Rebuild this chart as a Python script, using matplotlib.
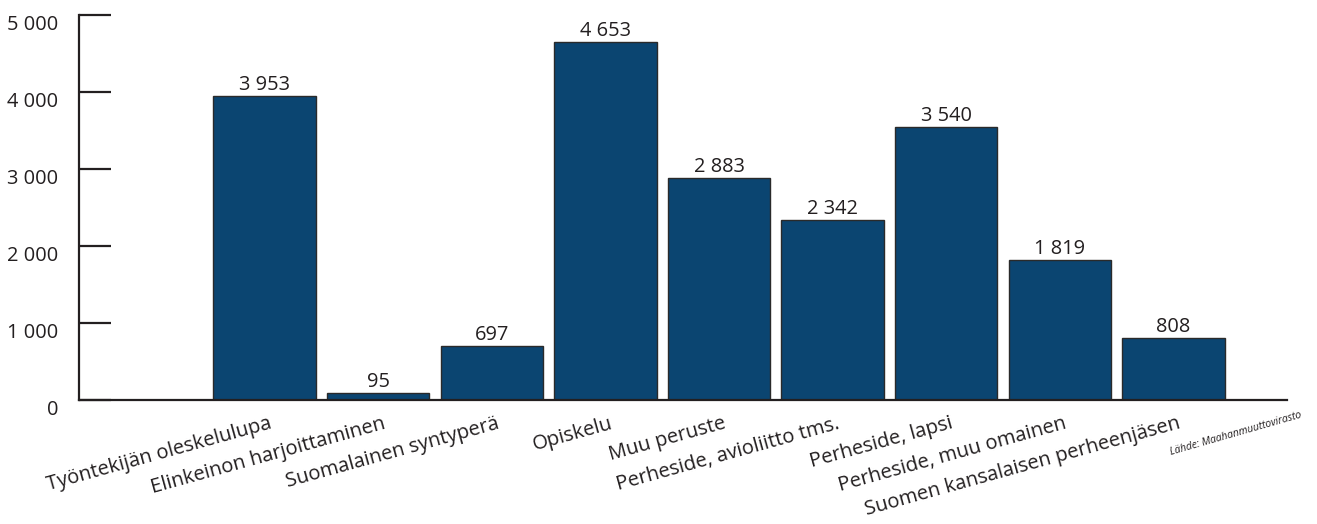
import matplotlib
matplotlib.use("Agg")
import matplotlib.pyplot as plt
import matplotlib.transforms as mtransforms
import numpy as np

categories = [
    "Työntekijän oleskelulupa",
    "Elinkeinon harjoittaminen",
    "Suomalainen syntyperä",
    "Opiskelu",
    "Muu peruste",
    "Perheside, avioliitto tms.",
    "Perheside, lapsi",
    "Perheside, muu omainen",
    "Suomen kansalaisen perheenjäsen",
]
values = [3953, 95, 697, 4653, 2883, 2342, 3540, 1819, 808]
y_ticks = [0, 1000, 2000, 3000, 4000, 5000]
source_text = "Lähde: Maahanmuuttovirasto"

TEXT = "#231f20"
BAR = "#0b4571"

plt.rcParams["font.family"] = ["Open Sans", "DejaVu Sans"]

def fmt(v):
    return f"{v:,}".replace(",", " ")

DPI = 100
fig = plt.figure(figsize=(13.17, 5.24), dpi=DPI)
ax = fig.add_axes([79 / 1317, 124 / 524, (1287 - 79) / 1317, (400 - 15) / 524])

x = np.arange(1, len(categories) + 1)
bars = ax.bar(x, values, width=0.9, color=BAR, edgecolor="#2a2a2a", linewidth=1.0, zorder=2)

ax.set_xlim(-0.634, 10)
ax.set_ylim(0, 5000)

for s in ("top", "right"):
    ax.spines[s].set_visible(False)
for s in ("left", "bottom"):
    ax.spines[s].set_linewidth(1.6)
    ax.spines[s].set_color(TEXT)
    ax.spines[s].set_zorder(3)

ax.set_yticks(y_ticks)
ax.set_yticklabels([fmt(v) for v in y_ticks])
ax.tick_params(axis="y", direction="in", length=23, width=1.6, color=TEXT,
               pad=15, labelsize=14.4, labelcolor=TEXT)
for lbl in ax.get_yticklabels():
    lbl.set_verticalalignment("top")
ax.set_xticks([])

# value labels
for xi, v in zip(x, values):
    ax.annotate(fmt(v), (xi, v), xytext=(0, 4.3), textcoords="offset points",
                ha="center", va="baseline", fontsize=14.4, color=TEXT)

# category labels (rotated, right end anchored near bar centre)
base = ax.get_xaxis_transform()
for xi, lab in zip(x, categories):
    tr = mtransforms.offset_copy(base, fig=fig, x=8, y=-28, units="dots")
    ax.text(xi, 0, lab, transform=tr, rotation=15.5, rotation_mode="anchor",
            ha="right", va="baseline", fontsize=14.5, color=TEXT)

fig.text(1302 / 1317, (524 - 417) / 524, source_text, rotation=16, rotation_mode="anchor",
         ha="right", va="baseline", fontsize=7.5, style="italic", color=TEXT)

fig.savefig("out.png", dpi=DPI)
